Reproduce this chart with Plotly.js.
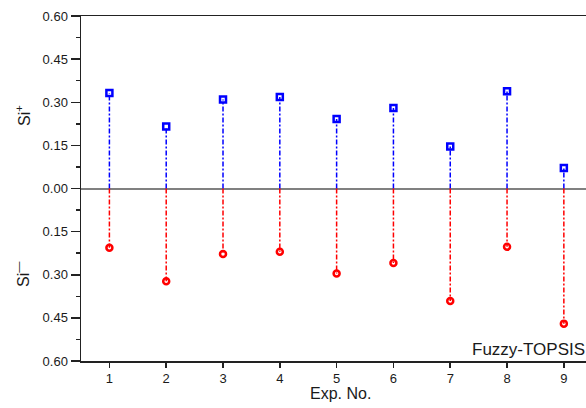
<!DOCTYPE html>
<html>
<head>
<meta charset="utf-8">
<script src="https://cdn.plot.ly/plotly-3.0.1.min.js"></script>
<style>
  html, body { margin: 0; padding: 0; background: #fff; overflow: hidden; }
  #chart { width: 586px; height: 408px; }
</style>
</head>
<body>
<div id="chart"></div>
<script>
// Data
const expNo = [1, 2, 3, 4, 5, 6, 7, 8, 9];
const siPlus = [0.332, 0.216, 0.310, 0.318, 0.242, 0.280, 0.146, 0.338, 0.071];
const siMinus = [0.206, 0.323, 0.228, 0.220, 0.296, 0.259, 0.391, 0.203, 0.470];
const yTickVals = [0.6, 0.45, 0.3, 0.15, 0, -0.15, -0.3, -0.45, -0.6];
const yTickText = ["0.60", "0.45", "0.30", "0.15", "0.00", "0.15", "0.30", "0.45", "0.60"];

const BLUE = "#0000ff";
const RED = "#ff0000";
const FONT = "Liberation Sans, Arial, sans-serif";

function stems(xs, ys) {
  const sx = [], sy = [];
  xs.forEach((x, i) => { sx.push(x, x, null); sy.push(0, ys[i], null); });
  return { x: sx, y: sy };
}

const plusStem = stems(expNo, siPlus);
const minusVals = siMinus.map(v => -v);
const minusStem = stems(expNo, minusVals);

const traces = [
  { x: plusStem.x, y: plusStem.y, mode: "lines", type: "scatter",
    line: { color: BLUE, width: 1.5, dash: "5px,2px,2px,2px" }, hoverinfo: "skip", showlegend: false },
  { x: minusStem.x, y: minusStem.y, mode: "lines", type: "scatter",
    line: { color: RED, width: 1.5, dash: "5px,2px,2px,2px" }, hoverinfo: "skip", showlegend: false },
  { x: expNo, y: siPlus, mode: "markers", type: "scatter",
    marker: { symbol: "square-open", size: 6, color: BLUE, line: { color: BLUE, width: 2.5 } }, showlegend: false },
  { x: expNo, y: minusVals, mode: "markers", type: "scatter",
    marker: { symbol: "circle-open", size: 6, color: RED, line: { color: RED, width: 2.5 } }, showlegend: false }
];

const layout = {
  width: 586, height: 408,
  margin: { l: 81, r: 0, t: 16, b: 47 },
  paper_bgcolor: "#fff", plot_bgcolor: "#fff",
  font: { family: FONT, size: 13, color: "#1a1a1a" },
  showlegend: false,
  xaxis: {
    range: [0.5, 9.39],
    tickvals: expNo,
    ticktext: expNo.map(String),
    ticks: "outside", ticklen: 5, tickwidth: 1.5, tickcolor: "#222",
    showline: true, linecolor: "#222", linewidth: 1.5, mirror: true,
    showgrid: false, zeroline: false,
    tickfont: { family: FONT, size: 13, color: "#1a1a1a" }
  },
  yaxis: {
    range: [-0.6, 0.6],
    tickvals: yTickVals,
    ticktext: yTickText,
    ticks: "outside", ticklen: 9, tickwidth: 1.5, tickcolor: "#222",
    minor: { dtick: 0.075, tick0: 0, ticks: "outside", ticklen: 4, tickwidth: 1.5, tickcolor: "#222", showgrid: false },
    showline: true, linecolor: "#222", linewidth: 1.5, mirror: false,
    showgrid: false,
    zeroline: true, zerolinecolor: "#808080", zerolinewidth: 2,
    tickfont: { family: FONT, size: 13, color: "#1a1a1a" }
  },
  annotations: [
    { text: "Exp. No.", xref: "paper", yref: "paper", x: (340 - 81) / 505, y: (361 - 394) / 345,
      xanchor: "center", yanchor: "middle", showarrow: false, font: { family: FONT, size: 16, color: "#1a1a1a" } },
    { text: "Fuzzy-TOPSIS", xref: "paper", yref: "paper", x: (470 - 81) / 505, y: (361 - 349) / 345,
      xanchor: "left", yanchor: "middle", showarrow: false, font: { family: FONT, size: 17, color: "#1a1a1a" } },
    { text: "Si<sup>+</sup>", xref: "paper", yref: "paper", x: (23 - 81) / 505, y: (361 - 116) / 345,
      xanchor: "center", yanchor: "middle", textangle: -90, showarrow: false, font: { family: FONT, size: 16, color: "#1a1a1a" } },
    { text: "Si<sup>—</sup>", xref: "paper", yref: "paper", x: (22 - 81) / 505, y: (361 - 274) / 345,
      xanchor: "center", yanchor: "middle", textangle: -90, showarrow: false, font: { family: FONT, size: 16, color: "#1a1a1a" } }
  ]
};

Plotly.newPlot("chart", traces, layout, { displayModeBar: false, staticPlot: true });
</script>
</body>
</html>
